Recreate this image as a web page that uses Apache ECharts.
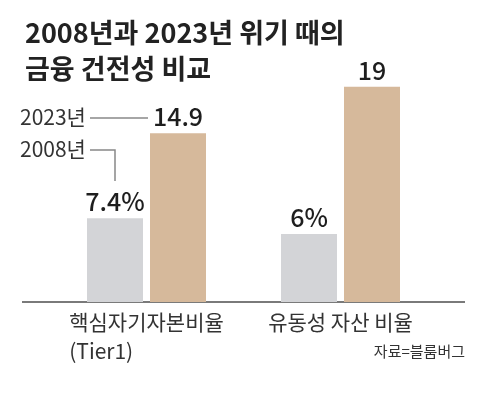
<!DOCTYPE html>
<html>
<head>
<meta charset="utf-8">
<script src="https://cdn.jsdelivr.net/npm/echarts@6/dist/echarts.min.js"></script>
<style>
  html, body { margin: 0; padding: 0; background: #fff; }
  #chart { width: 480px; height: 399px; }
</style>
</head>
<body>
<div id="chart"></div>
<script>
// 데이터
var categories = ['핵심자기자본비율\n(Tier1)', '유동성 자산 비율'];
var values2008 = [7.4, 6];
var values2023 = [14.9, 19];
var labels2008 = ['7.4%', '6%'];
var labels2023 = ['14.9', '19'];

var FONT = '"Noto Sans CJK KR", sans-serif';

var chart = echarts.init(document.getElementById('chart'));
chart.setOption({
  backgroundColor: '#fff',
  animation: false,
  title: {
    text: '2008년과 2023년 위기 때의\n금융 건전성 비교',
    left: 20,
    top: 10,
    textStyle: {
      fontFamily: FONT,
      fontSize: 27,
      lineHeight: 36,
      fontWeight: 'bold',
      color: '#222'
    }
  },
  grid: {
    left: 49.5,
    right: 42.5,
    top: 75.4,
    bottom: 97
  },
  xAxis: {
    type: 'category',
    data: categories,
    axisLine: { show: false },
    axisTick: { show: false },
    axisLabel: {
      margin: 6,
      formatter: function (v) {
        var parts = v.split('\n');
        return parts.length > 1 ? '{a|' + parts[0] + '}\n{b|' + parts[1] + '}' : '{a|' + v + '}';
      },
      rich: {
        a: { fontFamily: FONT, fontSize: 21, lineHeight: 29, color: '#333' },
        b: { fontFamily: FONT, fontSize: 21, lineHeight: 29, color: '#333', align: 'left' }
      }
    }
  },
  yAxis: {
    type: 'value',
    min: 0,
    max: 20,
    show: false
  },
  series: [
    {
      name: '2008년',
      type: 'bar',
      barWidth: 56,
      barGap: '12.5%',
      data: values2008,
      itemStyle: { color: '#d3d4d7' },
      label: {
        show: true,
        position: 'top',
        distance: 4,
        fontFamily: FONT,
        fontSize: 25,
        fontWeight: 500,
        color: '#1e1e1e',
        formatter: function (p) { return labels2008[p.dataIndex]; }
      }
    },
    {
      name: '2023년',
      type: 'bar',
      barWidth: 56,
      data: values2023,
      itemStyle: { color: '#d6b99b' },
      label: {
        show: true,
        position: 'top',
        distance: 4,
        fontFamily: FONT,
        fontSize: 25,
        fontWeight: 500,
        color: '#1e1e1e',
        formatter: function (p) { return labels2023[p.dataIndex]; }
      }
    }
  ],
  graphic: [
    // 기준선
    { type: 'line', shape: { x1: 22, y1: 302, x2: 465, y2: 302 }, style: { stroke: '#7a7a7a', lineWidth: 2 } },
    // 범례
    { type: 'text', left: 20, top: 107, style: { text: '2023년', font: '21px ' + FONT, fill: '#333' } },
    { type: 'text', left: 20, top: 139, style: { text: '2008년', font: '21px ' + FONT, fill: '#333' } },
    { type: 'line', shape: { x1: 90, y1: 118, x2: 148, y2: 118 }, style: { stroke: '#888', lineWidth: 1.5 } },
    { type: 'polyline', shape: { points: [[90, 150], [115, 150], [115, 181]] }, style: { stroke: '#888', lineWidth: 1.5, fill: null } },
    // 출처
    { type: 'text', right: 15, top: 344, style: { text: '자료=블룸버그', font: '15px ' + FONT, fill: '#333' } }
  ]
});
</script>
</body>
</html>
